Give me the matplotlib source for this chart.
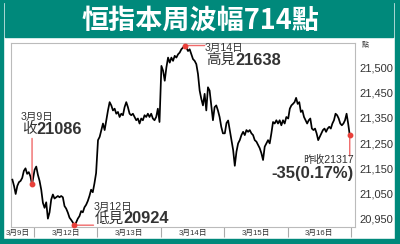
import matplotlib
matplotlib.use('Agg')
import matplotlib.pyplot as plt
import numpy as np
from matplotlib.patches import Rectangle

plt.rcParams['font.family'] = ['Liberation Sans', 'Noto Sans CJK TC']

# ---------------- data ----------------
title = '恒指本周波幅714點'
day_labels = ['3月9日', '3月12日', '3月13日', '3月14日', '3月15日', '3月16日']
yticks = [20950, 21050, 21150, 21250, 21350, 21450, 21550]
ytick_labels = ['20,950', '21,050', '21,150', '21,250', '21,350', '21,450', '21,500']

# tail of 3/9 session
mar09 = [21105, 21080, 21048, 21080, 21095, 21100, 21112, 21140, 21150, 21128,
         21135, 21118, 21086]
mar12 = [21144, 21157, 21124, 21100, 21065, 21013, 20993, 21015, 20950, 20975,
         21026, 21046, 21030, 21035, 21040, 21035, 21040, 21035, 21000, 20990,
         20974, 20954, 20945, 20935, 20924, 20935, 20950, 20960, 20980, 20975,
         20995, 21005, 21020, 21040, 21065, 21055, 21090, 21131]
mar13 = [21262, 21275, 21302, 21328, 21302, 21341, 21380, 21413, 21400, 21380,
         21387, 21367, 21374, 21354, 21367, 21361, 21393, 21413, 21393, 21367,
         21361, 21367, 21354, 21341, 21348, 21328, 21348, 21341, 21361, 21354,
         21367, 21354, 21367, 21348, 21341, 21354, 21387, 21334]
mar14 = [21557, 21538, 21498, 21551, 21590, 21570, 21590, 21577, 21597, 21590,
         21603, 21610, 21623, 21630, 21638, 21630, 21616, 21623, 21603, 21584,
         21577, 21564, 21525, 21459, 21426, 21400, 21446, 21380, 21472, 21459,
         21400, 21341, 21393, 21400, 21380, 21354, 21315, 21289]
mar15 = [21289, 21330, 21340, 21300, 21262, 21223, 21160, 21216, 21249, 21262,
         21282, 21295, 21282, 21302, 21295, 21302, 21289, 21282, 21262, 21256,
         21243, 21230, 21210, 21183, 21236, 21249, 21262, 21249, 21289, 21334,
         21328, 21341, 21328, 21341, 21321, 21341, 21328, 21354]
mar16 = [21348, 21387, 21400, 21406, 21413, 21430, 21406, 21413, 21374, 21380,
         21354, 21341, 21328, 21341, 21348, 21308, 21302, 21308, 21289, 21262,
         21275, 21289, 21302, 21308, 21295, 21308, 21315, 21308, 21328, 21341,
         21367, 21361, 21348, 21328, 21321, 21328, 21341, 21367, 21328, 21282]

close_0309 = 21086
low_val, high_val = 20924, 21638
prev_close, change, change_pct = 21317, -35, 0.17

# ---------------- figure ----------------
W, H = 400, 244
fig = plt.figure(figsize=(W / 100, H / 100), dpi=100)
teal = '#00897b'
red = '#e8403a'
pink = '#f06a6a'
txt = '#333333'

def frect(x0, y0, x1, y1, color):
    fig.patches.append(Rectangle((x0 / W, 1 - y1 / H), (x1 - x0) / W, (y1 - y0) / H,
                                 transform=fig.transFigure, color=color, zorder=0))

# outer frame and title band
frect(0, 0, W, 1.5, teal)
frect(0, 0, 2.7, H, teal)
frect(395, 0, W, H, teal)
frect(0, 238.7, W, H, teal)
frect(5, 3.3, 393, 37.3, teal)
fig.text(200 / W, 1 - 21 / H, title, color='white', fontsize=19.5, fontweight='bold',
         ha='center', va='center', family=['Noto Sans CJK TC'])

ax = fig.add_axes([11 / W, 1 - 226.7 / H, 344 / W, (226.7 - 43) / H])

# positions: each full trading day occupies one unit
xs = [np.linspace(-0.34, -0.03, len(mar09))]
for i, vals in enumerate([mar12, mar13, mar14, mar15, mar16]):
    xs.append(np.linspace(i + 0.01, i + 0.98, len(vals)))
x_all = np.concatenate(xs)
y_all = np.concatenate([mar09, mar12, mar13, mar14, mar15, mar16])
ax.plot(x_all, y_all, color='black', lw=1.25, zorder=3)

ax.set_xlim(-0.362, 5.063)
ax.set_ylim(20918, 21648)

for s in ax.spines.values():
    s.set_color('#bbbbbb')
    s.set_linewidth(0.8)

ax.set_xticks([-0.26, 0.5, 1.5, 2.5, 3.5, 4.5])
ax.set_xticklabels(day_labels, fontsize=5.6, color=txt)
ax.set_xticks(range(0, 6), minor=True)
ax.tick_params(axis='x', which='major', length=0, pad=2.5)
ax.tick_params(axis='x', which='minor', length=7.5, width=0.8, color='#aaaaaa')

ax.yaxis.tick_right()
ax.set_yticks(yticks)
ax.set_yticklabels(ytick_labels, fontsize=8, color=txt)
ax.tick_params(axis='y', length=0, pad=3)
fig.text(361.7 / W, 1 - 45 / H, '點', fontsize=5, color=txt, ha='left', va='center')

def P(dx, dy):
    return (dx * 0.72, -dy * 0.72)

def redline(xy, dxy):
    ax.annotate('', xy=xy, xytext=P(*dxy), textcoords='offset points',
                arrowprops=dict(arrowstyle='-', color=pink, lw=1.0, shrinkA=0, shrinkB=0))
    ax.plot([xy[0]], [xy[1]], 'o', color=red, ms=3.2, zorder=5, clip_on=False)

def two_part(xy, dxy, a, b, fa, fb):
    t1 = ax.annotate(a, xy=xy, xytext=P(*dxy), textcoords='offset points',
                     fontsize=fa, color=txt, ha='left', va='center')
    ax.annotate(b, xy=(1, 0.5), xycoords=t1, xytext=(0, 0), textcoords='offset points',
                fontsize=fb, color=txt, fontweight='bold', ha='left', va='center')

# 3/9 close
p = (xs[0][-1], close_0309)
redline(p, (0, -46))
ax.annotate('3月9日', xy=p, xytext=P(-11.6, -67.5), textcoords='offset points',
            fontsize=7.6, color=txt, ha='left', va='center')
two_part(p, (-10, -55), '收', str(close_0309), 10.5, 11.8)

# low
i_low = int(np.argmin(mar12))
p = (xs[1][i_low], low_val)
redline(p, (19, 0))
ax.annotate('3月12日', xy=p, xytext=P(19, -18.5), textcoords='offset points',
            fontsize=7.6, color=txt, ha='left', va='center')
two_part(p, (20, -6.5), '低見', str(low_val), 10.5, 11.8)

# high
i_high = int(np.argmax(mar14))
p = (xs[3][i_high], high_val)
redline(p, (20, 0))
ax.annotate('3月14日', xy=p, xytext=P(20.3, 2.2), textcoords='offset points',
            fontsize=7.6, color=txt, ha='left', va='center')
two_part(p, (21.3, 14.7), '高見', str(high_val), 10.5, 11.8)

# end of week
p = (xs[5][-1], mar16[-1])
redline(p, (0, 21))
ax.annotate('昨收%d' % prev_close, xy=p, xytext=P(4.3, 25), textcoords='offset points',
            fontsize=7.7, color=txt, ha='right', va='center')
ax.annotate('%d(%.2f%%)' % (change, change_pct), xy=p,
            xytext=P(4.3, 38), textcoords='offset points',
            fontsize=12, color=txt, fontweight='bold', ha='right', va='center')

fig.savefig('out.png', dpi=100)
